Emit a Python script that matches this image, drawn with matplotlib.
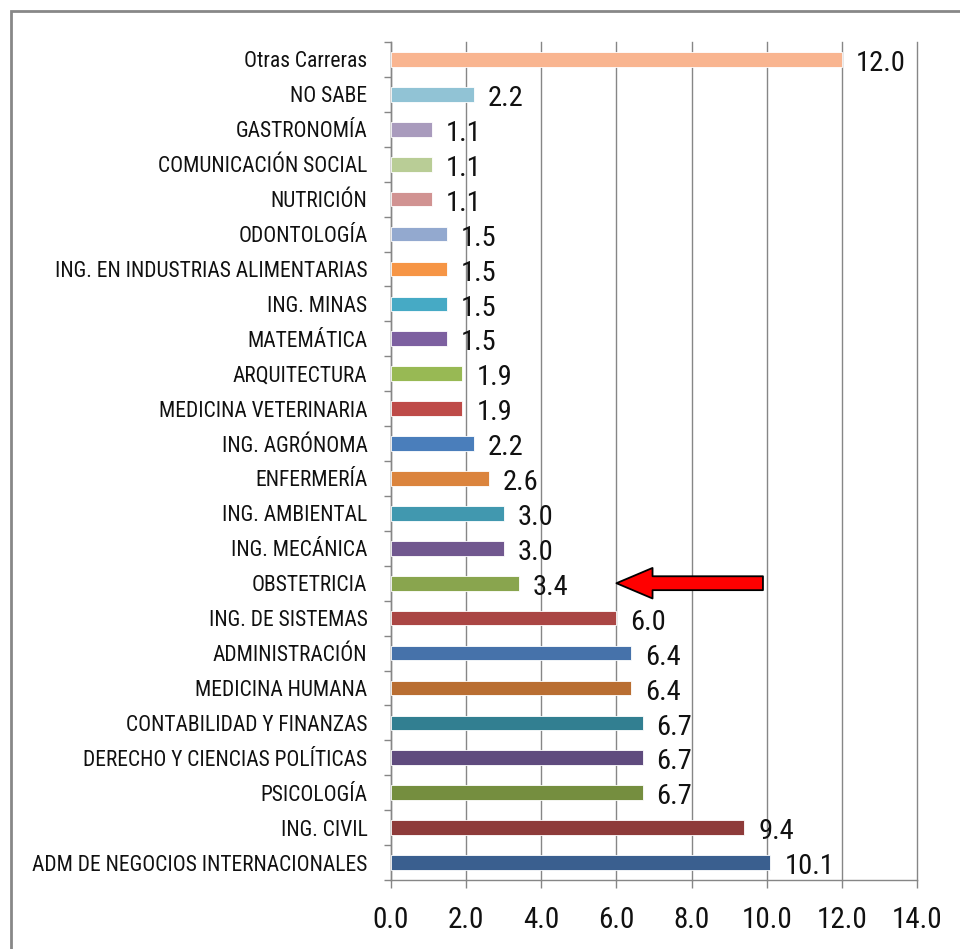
import matplotlib
matplotlib.use("Agg")
import matplotlib.pyplot as plt
from matplotlib.patches import Rectangle
from matplotlib import font_manager

categories = [
    "ADM DE NEGOCIOS INTERNACIONALES", "ING. CIVIL", "PSICOLOGÍA",
    "DERECHO Y CIENCIAS POLÍTICAS", "CONTABILIDAD Y FINANZAS", "MEDICINA HUMANA",
    "ADMINISTRACIÓN", "ING. DE SISTEMAS", "OBSTETRICIA", "ING. MECÁNICA",
    "ING. AMBIENTAL", "ENFERMERÍA", "ING. AGRÓNOMA", "MEDICINA VETERINARIA",
    "ARQUITECTURA", "MATEMÁTICA", "ING. MINAS", "ING. EN INDUSTRIAS ALIMENTARIAS",
    "ODONTOLOGÍA", "NUTRICIÓN", "COMUNICACIÓN SOCIAL", "GASTRONOMÍA",
    "NO SABE", "Otras Carreras",
]
values = [10.1, 9.4, 6.7, 6.7, 6.7, 6.4, 6.4, 6.0, 3.4, 3.0, 3.0, 2.6, 2.2,
          1.9, 1.9, 1.5, 1.5, 1.5, 1.5, 1.1, 1.1, 1.1, 2.2, 12.0]
colors = ["#3A5F8F", "#8E3B3A", "#758E3F", "#5F4B7E", "#327F91", "#B96E32",
          "#4672AA", "#AA4644", "#89A54E", "#71588F", "#4198AF", "#DB843D",
          "#4A7EBB", "#BE4B48", "#98B954", "#7D60A0", "#46AAC5", "#F69545",
          "#93A9CF", "#D19392", "#B9CD96", "#A99BBD", "#91C3D5", "#F9B590"]
xticks = [0, 2, 4, 6, 8, 10, 12, 14]
highlight = "OBSTETRICIA"
arrow_from = 9.9

# pick a narrow font if one is available
fonts = font_manager.fontManager.ttflist
names = {f.name for f in fonts}
fam, stretch, scale = "DejaVu Sans", "normal", 0.8
for cand in ["Liberation Sans Narrow", "Roboto Condensed", "Open Sans Condensed",
             "Arial Narrow", "Noto Sans Condensed"]:
    if cand in names:
        fam, stretch, scale = cand, "normal", 1.0
        break
else:
    cond = [f for f in fonts if f.name == "DejaVu Sans" and str(f.stretch) in ("condensed", "semi-condensed", "75", "87.5")]
    if cond:
        fam, stretch, scale = "DejaVu Sans", "condensed", 0.85
    elif "Liberation Sans" in names:
        fam, stretch, scale = "Liberation Sans", "normal", 0.85
plt.rcParams["font.family"] = [fam, "DejaVu Sans"]
plt.rcParams["font.stretch"] = stretch

fig = plt.figure(figsize=(9.6, 9.49), dpi=100)
ax = fig.add_axes([391/960, 1-880/949, (917-391)/960, (880-42)/949])

ypos = list(range(len(categories)))
ax.barh(ypos, values, height=0.42, color=colors, edgecolor="white", linewidth=0.6, zorder=3)

for y, v in zip(ypos, values):
    ax.annotate(f"{v:.1f}", xy=(v, y), xytext=(10, -3), textcoords="offset points",
                ha="left", va="center", fontsize=20.5 * scale, color="#111111", zorder=4)

ax.set_xlim(0, 14)
ax.set_ylim(-0.5, len(categories) - 0.5)
ax.set_xticks(xticks)
ax.set_xticklabels([f"{t:.1f}" for t in xticks], fontsize=21 * scale, color="#111111")
ax.set_yticks(ypos)
ax.set_yticklabels(categories, fontsize=15.5 * scale, color="#111111")
ax.set_yticks([i - 0.5 for i in range(len(categories) + 1)], minor=True)
ax.tick_params(axis="y", which="major", length=0, pad=17)
ax.tick_params(axis="y", which="minor", length=5, color="#868686", width=1)
ax.tick_params(axis="x", which="major", length=6, color="#868686", width=1, pad=13)

ax.grid(axis="x", color="#868686", linewidth=1, zorder=0)
for gl in ax.get_xgridlines():
    gl.set_clip_on(False)
ax.set_axisbelow(True)
for s in ["top", "right"]:
    ax.spines[s].set_visible(False)
for s in ["left", "bottom"]:
    ax.spines[s].set_color("#868686")
    ax.spines[s].set_linewidth(1)

yh = categories.index(highlight)
ax.annotate("", xy=(values[7], yh), xytext=(arrow_from, yh),
            arrowprops=dict(arrowstyle="simple,head_length=2.6,head_width=2.2,tail_width=1.0",
                            mutation_scale=10, fc="red", ec="black", lw=1.3,
                            shrinkA=0, shrinkB=0), zorder=5)

fig.patches.append(Rectangle((11/960, -0.05), 1.2, 1 - 11/949 + 0.05,
                             transform=fig.transFigure, fill=False,
                             edgecolor="#888888", linewidth=2))

fig.savefig("out.png", dpi=100, facecolor="white")
